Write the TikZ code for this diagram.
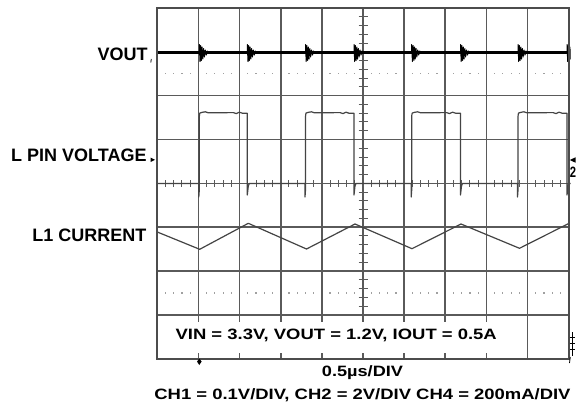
\documentclass[tikz,border=0pt]{standalone}
\usepackage{fontspec}
\setmainfont{Liberation Sans}
\usepackage{graphicx}
\definecolor{gridc}{HTML}{5A5A5A}
\definecolor{dotc}{HTML}{A0A0A0}
\definecolor{trc}{HTML}{444444}
\begin{document}
\begin{tikzpicture}[x=1pt,y=-1pt,
  gridline/.style={draw=gridc,line width=1.6pt},
  border/.style={draw=gridc!85!black,line width=1.7pt},
  axtick/.style={draw=gridc,line width=1pt},
  trace/.style={draw=trc,line width=1.2pt,line join=round},
  vtrace/.style={draw=black,line width=2.6pt},
  ring/.style={draw=black,line width=1pt,line join=round},
  lbl/.style={font=\bfseries\fontsize{18}{20}\selectfont,inner sep=0pt},
  note/.style={font=\bfseries\fontsize{15}{17}\selectfont,inner sep=0pt},
  mark2/.style={font=\bfseries\fontsize{15}{15}\selectfont,inner sep=0pt}]
\useasboundingbox (0,0) rectangle (578,407);
\fill[white] (0,0) rectangle (578,407);
% dotted rows
\foreach \j in {1,...,49} {
  \fill[dotc] ({157.3+8.228*\j-0.6},73.2) rectangle ({157.3+8.228*\j+0.6},74.4);
  \fill[dotc] ({157.3+8.228*\j-0.6},292.4) rectangle ({157.3+8.228*\j+0.6},293.6);
}
% grid
\foreach \k in {1,...,9} \draw[gridline] ({157.3+41.14*\k},8) -- ({157.3+41.14*\k},358.7);
\foreach \k in {1,...,7} \draw[gridline] (157.3,{8+43.84*\k}) -- (568.7,{8+43.84*\k});
% axis ticks
\foreach \j in {1,...,39} \draw[axtick] (358.5,{8+8.768*\j}) -- (367.7,{8+8.768*\j});
\foreach \j in {1,...,49} \draw[axtick] ({157.3+8.228*\j},180) -- ({157.3+8.228*\j},186.8);
% label box
\fill[white] (158.2,321.7) rectangle (523,353.3);
\foreach \k in {1,...,8} \draw[gridline] ({157.3+41.14*\k},353.5) -- ({157.3+41.14*\k},358.7);
% traces
\begin{scope}
\clip (157.3,6) rectangle (570.5,360);
\draw[vtrace] (157.3,52.2) -- (568.7,52.2);
\foreach \e in {199.3,247.3,305.5,354,411.7,460.5,518,567} {
  \draw[ring] (\e,52) -- (\e,44.5) -- (\e+0.7,61.5) -- (\e+1.4,45.5) -- (\e+2.1,60.5) -- (\e+2.8,47) -- (\e+3.5,59) -- (\e+4.3,48.5) -- (\e+5.1,57) -- (\e+6,50) -- (\e+7,55) -- (\e+8,51) -- (\e+9,53) -- (\e+10,52);
}
\draw[trace] (157.3,183.4)
  foreach \r/\f in {199.3/247.3,305.5/354,411.7/460.5,518/567} {
   -- (\r-0.5,183.4) -- (\r-0.5,197) -- (\r,190) -- (\r,117)
   .. controls (\r+0.3,112.5) .. (\r+3,112.3) -- (\r+6,111.8) -- (\r+9,112.8)
   -- (\f-14,112.6) -- (\f-11,113.6) -- (\f-8,112.2) -- (\f-5,113.2) -- (\f,113.2)
   -- (\f,195) -- (\f+1,186) -- (\f+2,183.4) }
  -- (570.5,183.4);
\draw[trace] (157.3,232) -- (199.7,249.3) -- (248.3,223.3) -- (306.5,249)
  -- (355,224) -- (412,248.7) -- (461,224) -- (519.5,248.3) -- (568.7,223.5);
\end{scope}
\draw[border] (157.3,8) rectangle (568.7,358.7);
% labels
\node[lbl,anchor=base east] (vout) at (147.7,60.3) {VOUT};
\node[lbl,anchor=base east] (lpin) at (146.7,161.7) {L PIN VOLTAGE};
\node[lbl,anchor=base east] (lcur) at (146.7,241.5) {L1 CURRENT};
\draw[line width=0.8pt] (151.3,59) -- (150.8,62.5);
\fill (150.5,157.5) -- (155,159.8) -- (150.5,162) -- cycle;
% notes
\node[note,anchor=base] (vin) at (336.2,339.3) {\scalebox{1.23}[1]{VIN = 3.3V, VOUT = 1.2V, IOUT = 0.5A}};
\node[note,anchor=base] (tdiv) at (362.5,376.7) {\scalebox{1.21}[1]{0.5µs/DIV}};
\node[note,anchor=base] (ch) at (362.5,399.3) {\scalebox{1.23}[1]{CH1 = 0.1V/DIV, CH2 = 2V/DIV CH4 = 200mA/DIV}};
% scope markers
\fill (199.3,358.5) -- (201.6,361.6) -- (199.3,365) -- (197,361.6) -- cycle;
\fill (569.8,160) -- (575.5,157.3) -- (575.5,162.7) -- cycle;
\node[mark2,anchor=base west] (m2) at (569.6,177.3) {\scalebox{0.75}[1]{2}};
\draw[line width=0.8pt] (572.3,332) -- (572.3,356);
\foreach \yy in {337,343,349} \draw[line width=0.8pt] (569.8,\yy) -- (574.8,\yy);
\draw[line width=0.8pt] (570.3,357) -- (569.5,363);
\end{tikzpicture}
\end{document}
